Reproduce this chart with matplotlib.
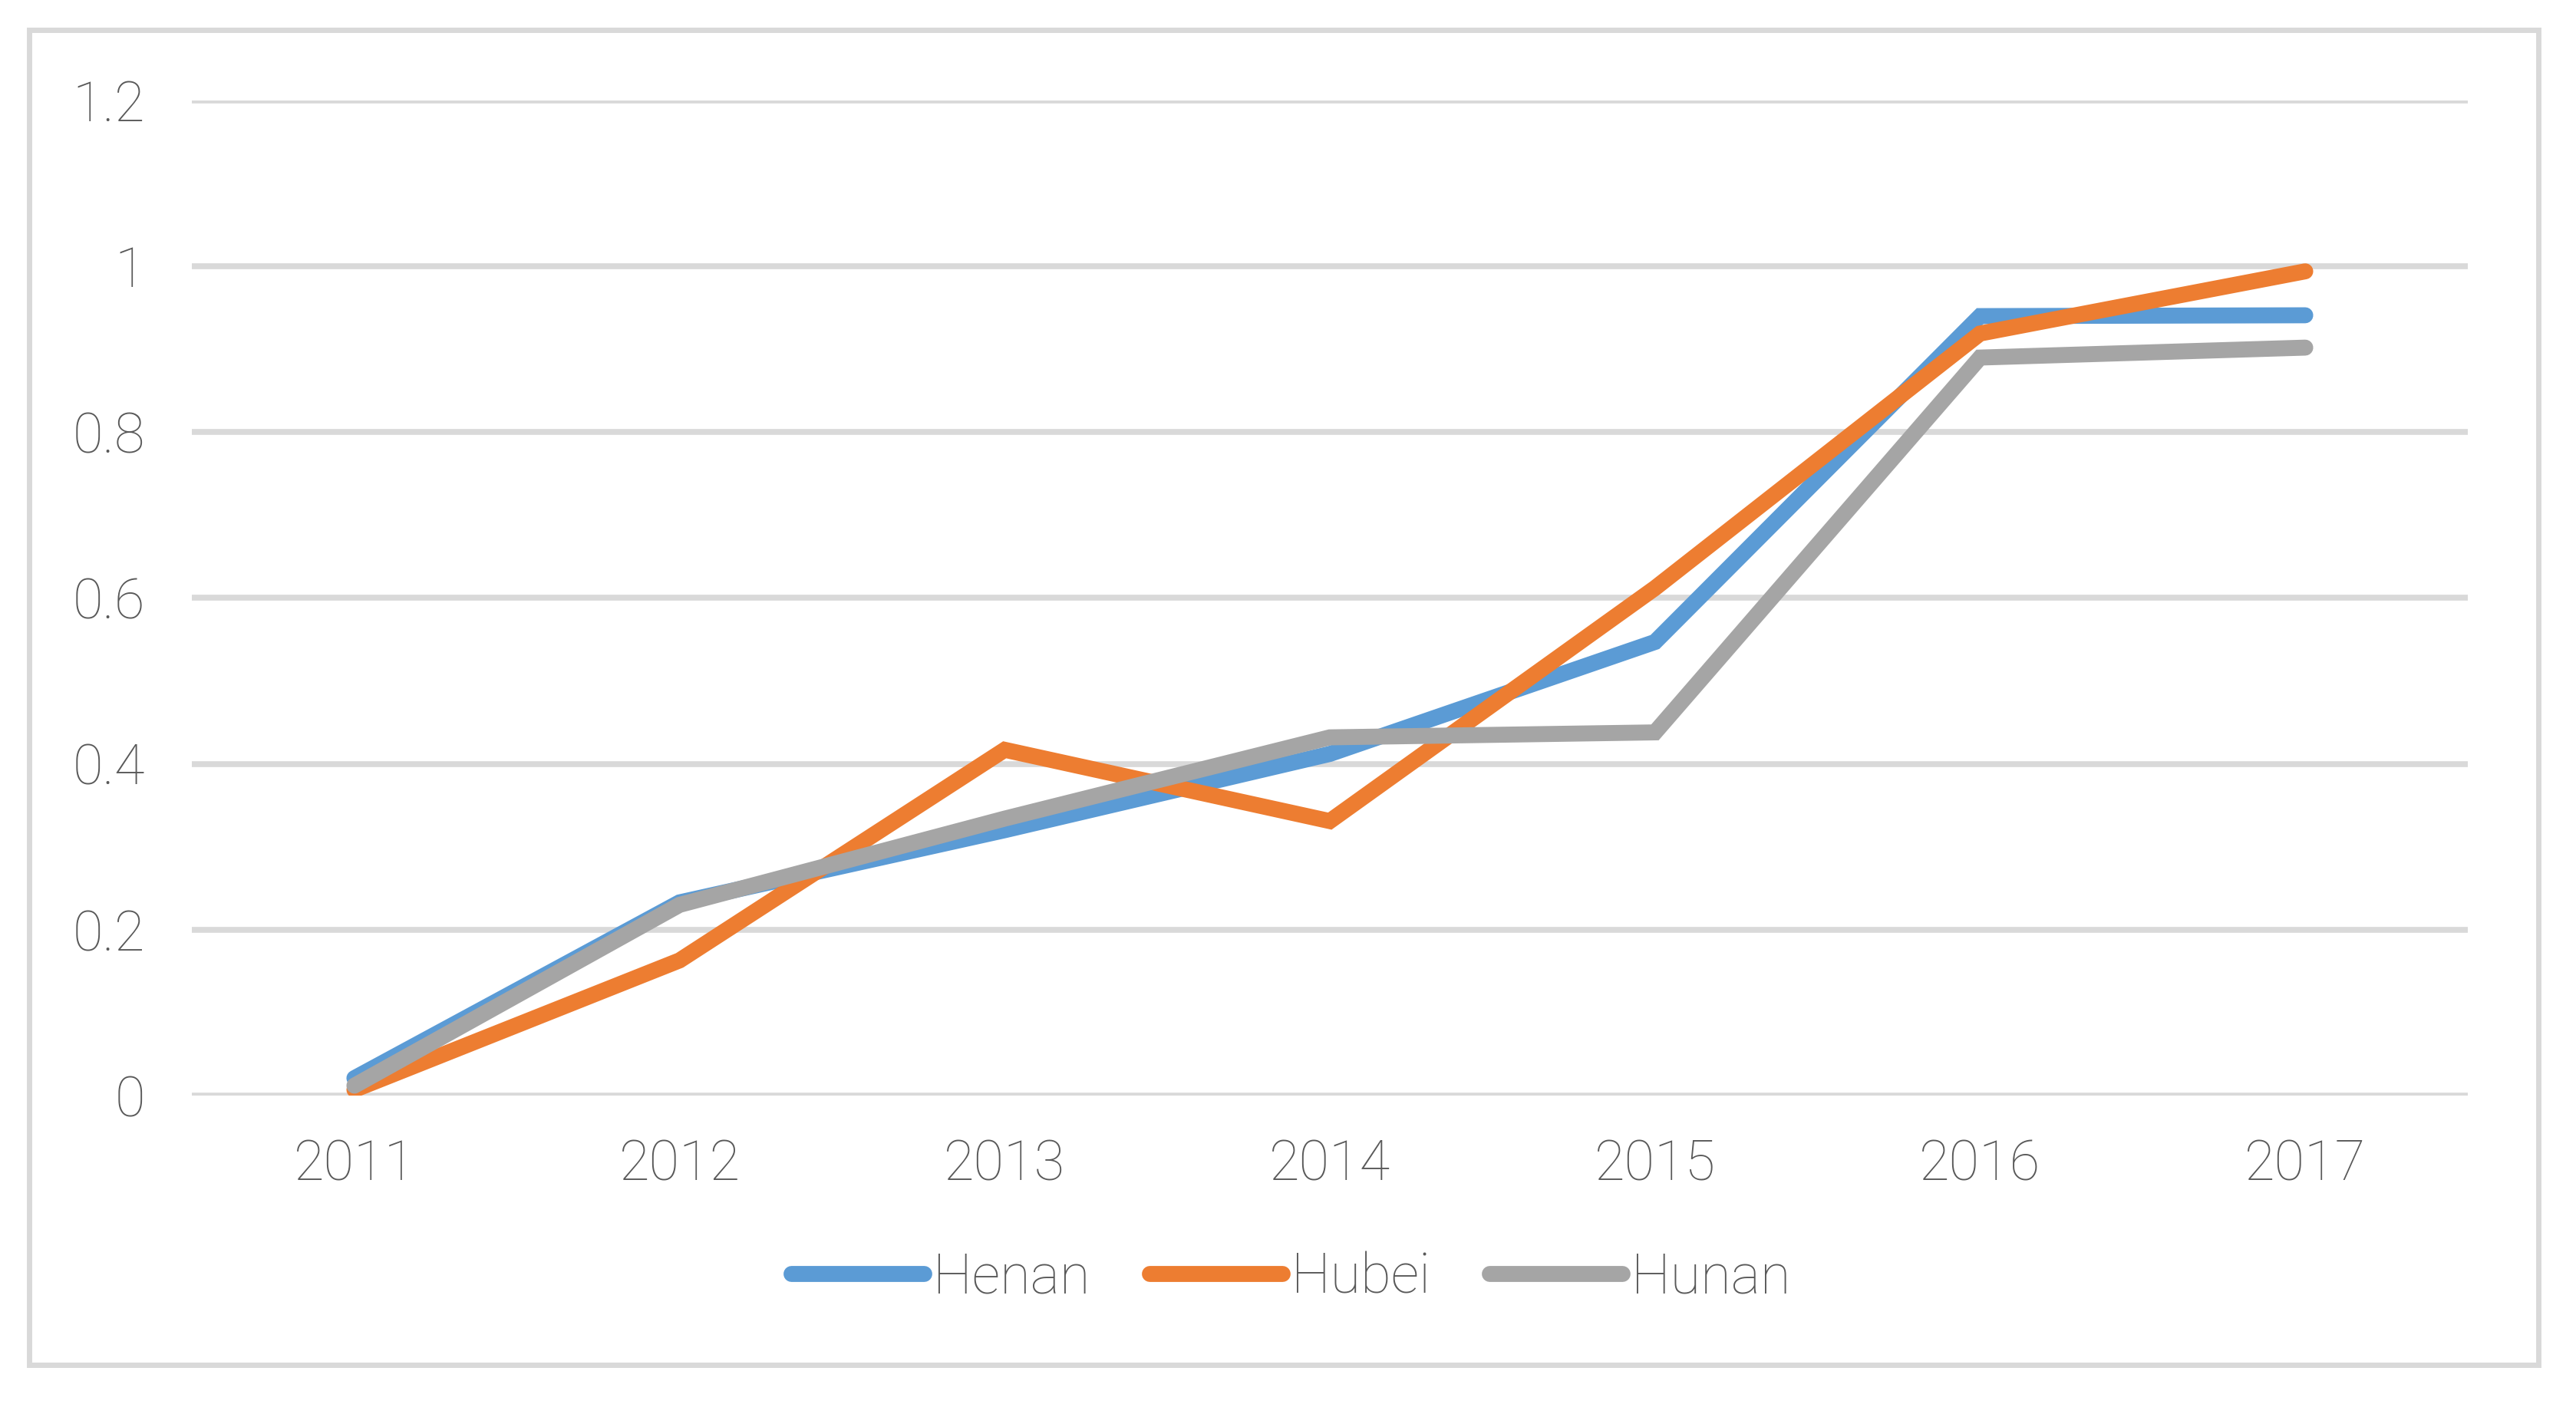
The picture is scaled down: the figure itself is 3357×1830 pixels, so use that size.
import matplotlib
matplotlib.use('Agg')
import matplotlib.pyplot as plt
from matplotlib.patches import Rectangle

# data
years = ['2011', '2012', '2013', '2014', '2015', '2016', '2017']
henan = [0.021, 0.233, 0.320, 0.412, 0.547, 0.940, 0.941]
hubei = [0.007, 0.163, 0.417, 0.331, 0.612, 0.919, 0.994]
hunan = [0.012, 0.230, 0.334, 0.432, 0.438, 0.890, 0.902]

y_ticks = [0, 0.2, 0.4, 0.6, 0.8, 1.0, 1.2]
y_tick_labels = ['0', '0.2', '0.4', '0.6', '0.8', '1', '1.2']

W, H = 3357, 1830
TEXT = '#595959'
GRID = '#D9D9D9'

plt.rcParams['font.family'] = ['Roboto', 'DejaVu Sans']
plt.rcParams['font.weight'] = 'light'

fig = plt.figure(figsize=(W / 100, H / 100), dpi=100)
ax = fig.add_axes([250 / W, 1 - 1428 / H, (3216 - 250) / W, (1428 - 131) / H])

x = list(range(len(years)))
series = [('Henan', henan, '#5B9BD5'),
          ('Hubei', hubei, '#ED7D31'),
          ('Hunan', hunan, '#A5A5A5')]
for name, vals, col in series:
    ax.plot(x, vals, color=col, lw=15, label=name,
            solid_capstyle='round', solid_joinstyle='miter', zorder=3)

ax.set_xlim(-0.5, len(years) - 0.5)
ax.set_ylim(0, 1.2)
ax.set_xticks(x)
ax.set_xticklabels(years)
ax.set_yticks(y_ticks)
ax.set_yticklabels(y_tick_labels)
ax.tick_params(axis='both', length=0, labelsize=52, labelcolor=TEXT)
ax.tick_params(axis='x', pad=40)
ax.tick_params(axis='y', pad=44)
ax.yaxis.grid(True, color=GRID, lw=5.5, zorder=0)
ax.set_axisbelow(True)
for s in ax.spines.values():
    s.set_visible(False)

leg = fig.legend(loc='center', bbox_to_anchor=(1682 / W, 1 - 1666 / H),
                 ncol=3, frameon=False, fontsize=52,
                 handlelength=2.4, handletextpad=0.16, columnspacing=1.07,
                 borderpad=0)
for t in leg.get_texts():
    t.set_color(TEXT)
for h in leg.get_lines():
    h.set_linewidth(15)
    h.set_solid_capstyle('round')

# outer chart border
fig.patches.append(Rectangle((38 / W, 1 - 1779 / H), (3308 - 38) / W, (1779 - 39) / H,
                             transform=fig.transFigure, fill=False,
                             edgecolor=GRID, lw=5))

fig.savefig('out.png', dpi=100, facecolor='white')
